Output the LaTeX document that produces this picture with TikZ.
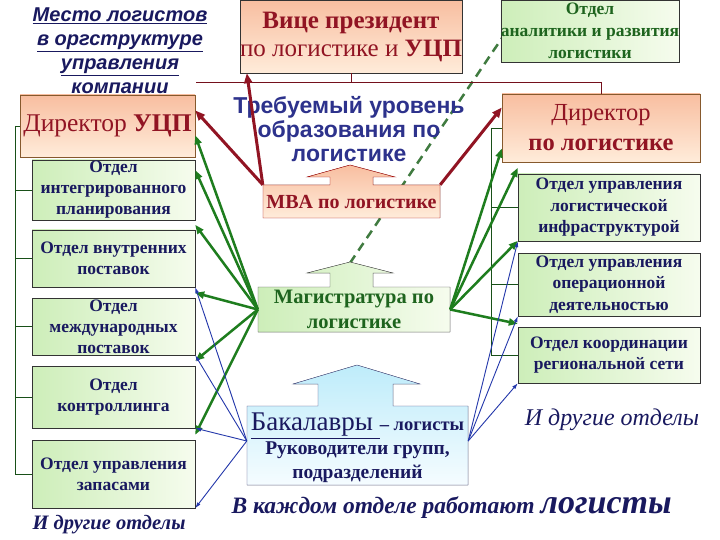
\documentclass[tikz,border=0pt]{standalone}
\usepackage{fontspec}
\setmainfont{Liberation Serif}
\newfontfamily\arialfont{Liberation Sans}
\usetikzlibrary{arrows.meta,positioning,calc}
\definecolor{dkred}{RGB}{145,20,35}
\definecolor{navy}{RGB}{25,25,95}
\definecolor{dkgreen}{RGB}{30,100,30}
\definecolor{arrgreen}{RGB}{30,125,30}
\definecolor{arrblue}{RGB}{35,55,170}
\definecolor{reqblue}{RGB}{45,50,140}
\definecolor{peachA}{RGB}{248,190,160}
\definecolor{peachB}{RGB}{255,236,218}
\definecolor{greenA}{RGB}{205,238,185}
\definecolor{greenB}{RGB}{246,252,238}
\definecolor{blueA}{RGB}{190,236,250}
\definecolor{blueB}{RGB}{245,252,255}
\tikzset{
	peachbox/.style={draw=brown!70!black,top color=peachA,bottom color=peachB,align=center,inner sep=0pt,text=dkred},
	greenbox/.style={draw=black!80,left color=greenA,right color=greenB,align=center,inner sep=0pt},
	dept/.style={greenbox,minimum width=163pt,text=navy,font=\fontsize{17.5}{21}\selectfont\bfseries},
	rdept/.style={greenbox,minimum width=182pt,text=navy,font=\fontsize{17.5}{21.5}\selectfont\bfseries},
	others/.style={text=navy,font=\itshape},
	redarr/.style={-{Triangle[length=10pt,width=8pt]},draw=dkred,line width=3pt},
	grnarr/.style={-{Triangle[length=9pt,width=7pt]},draw=arrgreen,line width=2.5pt},
	bluarr/.style={-{Latex[length=6pt,width=4pt]},draw=arrblue,line width=0.9pt},
	treeline/.style={draw=dkgreen!80!black,line width=0.8pt},
	topline/.style={draw=dkred!80!black,line width=0.9pt},
	dashline/.style={draw=dkgreen!85,line width=2.5pt,dash pattern=on 9pt off 6pt}
}

\begin{document}
\begin{tikzpicture}[x=1pt,y=-1pt]
	\fill[white] (0,0) rectangle (720,540);
	\useasboundingbox (0,0) rectangle (720,540);

	\node[text=navy,align=center,font=\arialfont\bfseries\itshape\fontsize{20}{24}\selectfont] (title) at (120,52)
		{\underline{Место логистов}\\\underline{в оргструктуре}\\\underline{управления}\\\underline{компании}};

	\coordinate (dtip) at (350,263);
	\coordinate (dend) at (502,38);
	\draw[dashline] (dtip) -- (dend);

	\node[peachbox,minimum width=175pt,minimum height=62pt,font=\fontsize{25.5}{28}\selectfont] (dirucp) at (107.5,126) {Директор \textbf{УЦП}};
	\node[dept,minimum height=60pt] (integr) at (113.5,190) {Отдел\\интегрированного\\планирования};
	\node[dept,minimum height=57pt] (vnutr) at (113.5,258.5) {Отдел внутренних\\поставок};
	\node[dept,minimum height=57pt] (mezhd) at (113.5,326.5) {Отдел\\международных\\поставок};
	\node[dept,minimum height=62pt] (kontr) at (113.5,397) {Отдел\\контроллинга};
	\node[dept,minimum height=68pt] (zapas) at (113.5,474) {Отдел управления\\запасами};
	\node[others,font=\bfseries\itshape\fontsize{20.5}{22}\selectfont] (othl) at (109,525) {И другие отделы};

	\coordinate (ltop) at (15,126);
	\draw[treeline] (ltop) -- (dirucp.west);
	\draw[treeline] (ltop) |- (zapas.west);
	\foreach \d in {integr,vnutr,mezhd,kontr}
		\draw[treeline] (\d.west) -- (\d.west -| ltop);

	\node[peachbox,draw=black!80,minimum width=222pt,minimum height=73pt,font=\fontsize{25}{28}\selectfont] (vp) at (351,36.5)
		{\textbf{Вице президент}\\по логистике и \textbf{УЦП}};
	\node[greenbox,minimum width=176pt,minimum height=62pt,text=dkgreen,font=\fontsize{17.5}{22}\selectfont\bfseries] (analit) at (590,31)
		{Отдел\\аналитики и развития\\логистики};
	\node[peachbox,minimum width=198pt,minimum height=68pt,font=\fontsize{24.5}{30}\selectfont] (dirlog) at (601,128)
		{Директор\\\textbf{по логистике}};

	\coordinate (hl) at (196,82);
	\draw[topline] (hl) -- (hl -| dirlog.north) -- (dirlog.north);
	\draw[topline] (vp.south) -- (vp.south |- hl);

	\node[rdept,minimum height=67pt] (infra) at (609,207.5) {Отдел управления\\логистической\\инфраструктурой};
	\node[rdept,minimum height=63pt] (oper) at (609,284.5) {Отдел управления\\операционной\\деятельностью};
	\node[rdept,minimum height=56pt] (coord) at (609,355) {Отдел координации\\региональной сети};
	\node[others,font=\itshape\fontsize{24}{26}\selectfont] (othr) at (612,420) {И другие отделы};

	\coordinate (rtop) at (491,128);
	\draw[treeline] (rtop) -- (dirlog.west);
	\draw[treeline] (rtop) |- (coord.west);
	\foreach \d in {infra,oper}
		\draw[treeline] (\d.west) -- (\d.west -| rtop);

	\node[text=reqblue,align=center,font=\arialfont\bfseries\fontsize{23}{24}\selectfont] (req) at (349,129)
		{Требуемый уровень\\образования по\\логистике};

	\filldraw[draw=red!65!black,top color=peachA,bottom color=peachB]
		(263,185) -- (330,185) -- (330,177) -- (307,177) -- (350,165) -- (395,177) -- (373,177) -- (373,185)
		-- (440,185) -- (440,218) -- (263,218) -- cycle;
	\node[minimum width=177pt,minimum height=33pt,inner sep=0pt,text=dkred,font=\fontsize{20}{22}\selectfont\bfseries] (mba) at (351.5,201.5)
		{MBA по логистике};

	\filldraw[draw=black!70,left color=greenA,right color=greenB]
		(258,287) -- (330,287) -- (330,273) -- (307,273) -- (350,262) -- (393,273) -- (373,273) -- (373,287)
		-- (450,287) -- (450,332) -- (258,332) -- cycle;
	\node[minimum width=192pt,minimum height=45pt,inner sep=0pt,align=center,text=dkgreen,font=\fontsize{20.5}{25}\selectfont\bfseries] (mag) at (354,309.5)
		{Магистратура по\\логистике};

	\filldraw[draw=navy!80,top color=blueA,bottom color=blueB]
		(247,406) -- (318,406) -- (318,384) -- (293,384) -- (357,365) -- (420,384) -- (393,384) -- (393,406)
		-- (468,406) -- (468,485) -- (247,485) -- cycle;
	\node[minimum width=221pt,minimum height=79pt,inner sep=0pt,align=center,text=navy,font=\fontsize{19.5}{24}\selectfont\bfseries] (bak) at (357.5,448)
		{{\mdseries\fontsize{27}{24}\selectfont\underline{Бакалавры }}{\fontsize{18.5}{24}\selectfont -- логисты}\\Руководители групп,\\подразделений};

	\node[text=navy,font=\bfseries\itshape\fontsize{23.5}{26}\selectfont,anchor=base west] (every) at (228,513)
		{В каждом отделе работают {\fontsize{34}{34}\selectfont логисты}};

	\draw[redarr] (mba.north west) -- ($(dirucp.north east)!0.25!(dirucp.south east)$);
	\draw[redarr] (mba.north west) -- ($(vp.south west)+(7,0)$);
	\draw[redarr] (mba.north east) -- ($(dirlog.north west)!0.2!(dirlog.south west)$);

	\draw[grnarr] (mag.west) -- ($(dirucp.north east)!0.65!(dirucp.south east)$);
	\draw[grnarr] (mag.west) -- ($(integr.north east)!0.17!(integr.south east)$);
	\foreach \d in {vnutr,mezhd,kontr,zapas}
		\draw[grnarr] (mag.west) -- ($(\d.north east)+(0,-5)$);
	\draw[grnarr] (mag.east) -- ($(dirlog.north west)!0.8!(dirlog.south west)$);
	\draw[grnarr] (mag.east) -- ($(infra.north west)+(0,-6)$);
	\draw[grnarr] (mag.east) -- ($(oper.north west)+(0,-12)$);
	\draw[grnarr] (mag.east) -- ($(coord.north west)+(0,-3)$);

	\foreach \d in {vnutr,mezhd,kontr,zapas}
		\draw[bluarr] ($(bak.west)+(0,-7)$) -- (\d.south east);
	\foreach \d in {infra,oper,coord}
		\draw[bluarr] ($(bak.east)+(0,-7)$) -- (\d.south west);
\end{tikzpicture}
\end{document}
